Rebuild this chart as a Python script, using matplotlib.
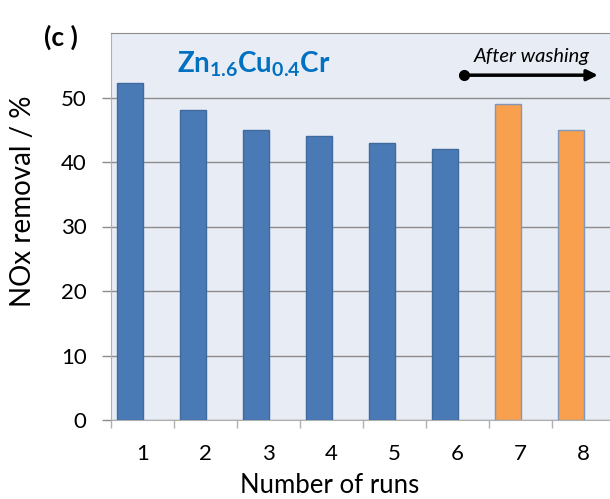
import matplotlib
matplotlib.use("Agg")
import matplotlib.pyplot as plt
from matplotlib.ticker import FixedLocator

runs = ["1", "2", "3", "4", "5", "6", "7", "8"]
removal = [52.2, 48, 45, 44, 43, 42, 49, 45]
washed = [False, False, False, False, False, False, True, True]
yticks = [0, 10, 20, 30, 40, 50]

plt.rcParams['font.family'] = ['Lato', 'DejaVu Sans']
plt.rcParams['mathtext.fontset'] = 'custom'
plt.rcParams['mathtext.rm'] = 'Lato'
plt.rcParams['mathtext.bf'] = 'Lato:bold'

W, H = 610, 499
fig = plt.figure(figsize=(6.10, 4.99), dpi=100)
ax = fig.add_axes([111/W, 79/H, 504/W, 387/H])
ax.set_facecolor('#E8ECF4')

x = list(range(1, len(runs) + 1))
colors = ['#F9A04E' if w else '#4A7AB5' for w in washed]
edges = ['#7F97BC' if w else '#3E6A9E' for w in washed]
ax.bar([xi - 0.2 for xi in x], removal, width=0.41, color=colors,
       edgecolor=edges, linewidth=1.0, zorder=3)

ax.set_xlim(0.5, 8.5)
ax.set_ylim(0, 60)
ax.set_yticks(yticks)
ax.yaxis.grid(True, color='#8C8C8C', linewidth=1.0, zorder=0)
ax.set_axisbelow(True)

ax.set_xticks(x)
ax.set_xticklabels(runs)
ax.xaxis.set_minor_locator(FixedLocator([i + 0.5 for i in range(0, 9)]))
ax.tick_params(axis='x', which='major', length=0, pad=17, labelsize=16)
ax.tick_params(axis='x', which='minor', length=6, color='#B0B0B0', width=1)
ax.tick_params(axis='y', which='major', length=6.5, color='#8C8C8C', width=1,
               pad=11, labelsize=16)

ax.spines['top'].set_color('#8C8C8C')
ax.spines['left'].set_color('#B0B0B0')
ax.spines['bottom'].set_color('#B0B0B0')
ax.spines['right'].set_visible(False)

fig.text(23/W, 1 - 201/H, 'NOx removal / %', fontsize=20, rotation=90,
         ha='center', va='center')
fig.text(330/W, 1 - 493/H, 'Number of runs', fontsize=18.5,
         ha='center', va='baseline')

fig.text(44/W, 1 - 37/H, '(c )', fontsize=19, fontweight='bold',
         ha='left', va='center')
ax.text(0.131, 0.897, r'$\mathbf{Zn_{1.6}Cu_{0.4}Cr}$', transform=ax.transAxes,
        fontsize=20, color='#0070C0', ha='left', va='baseline')

ax.annotate('', xy=(0.966, 0.891), xytext=(0.70, 0.891), xycoords='axes fraction',
            arrowprops=dict(arrowstyle='-|>', color='black', lw=2.5,
                            mutation_scale=16, shrinkA=0, shrinkB=0))
ax.plot([0.70], [0.891], 'o', color='black', markersize=7,
        transform=ax.transAxes, clip_on=False, zorder=5)
ax.text(0.835, 0.94, 'After washing', transform=ax.transAxes, fontsize=14.5,
        fontstyle='italic', ha='center', va='center')

fig.savefig('out.png', dpi=100)
